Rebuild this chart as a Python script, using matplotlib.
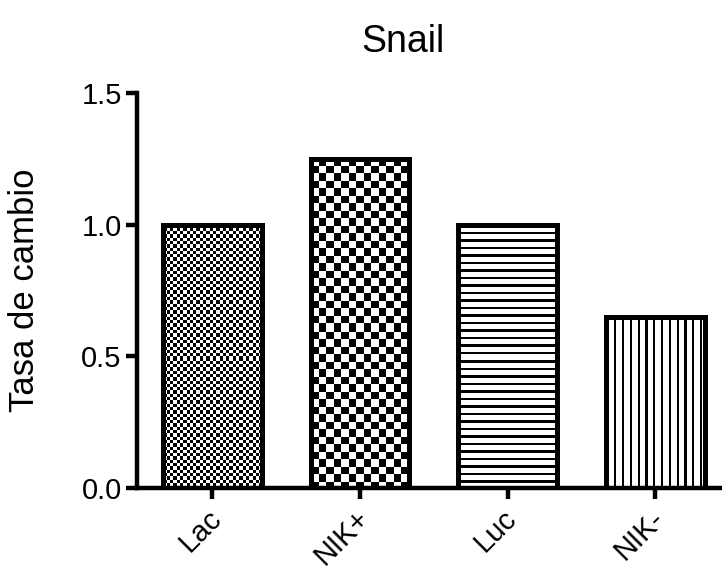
import numpy as np
import matplotlib
matplotlib.use("Agg")
import matplotlib.pyplot as plt
import matplotlib.transforms as mtransforms

plt.rcParams['font.family'] = ['Liberation Sans', 'DejaVu Sans']

categories = ["Lac", "NIK+", "Luc", "NIK-"]
values = [1.0, 1.25, 1.0, 0.65]
patterns = ["fine_checker", "checker", "hlines", "vlines"]
yticks = [0.0, 0.5, 1.0, 1.5]
ytick_labels = ["0.0", "0.5", "1.0", "1.5"]
title = "Snail"
ylabel = "Tasa de cambio"

W, H, DPI = 722, 570, 100
fig = plt.figure(figsize=(W / DPI, H / DPI), dpi=DPI)
ax = fig.add_axes([137 / W, 1 - 488 / H, (W - 137) / W + 0.01, (488 - 93) / H])

x = np.arange(len(categories))
ax.set_xlim(-0.51, 3.5)
ax.set_ylim(0, 1.5)

# Outlined bars; the fill pattern is painted underneath and clipped to each bar
bars = ax.bar(x, values, width=0.667, facecolor="none", edgecolor="black",
              linewidth=3.6, zorder=3)


def pattern_array(kind, hpx, wpx):
    rows, cols = np.mgrid[0:hpx, 0:wpx]
    if kind == "fine_checker":
        c = 3.3
        return ((np.floor(rows / c) + np.floor(cols / c)) % 2).astype(float)
    if kind == "checker":
        c = 7.5
        return ((np.floor(rows / c) + np.floor(cols / c)) % 2).astype(float)
    if kind == "hlines":
        return ((rows % 7.5) < 2.2).astype(float)
    if kind == "vlines":
        return ((cols % 7.8) < 2.2).astype(float)
    return np.zeros((hpx, wpx))


fig.canvas.draw()
for bar, kind in zip(bars, patterns):
    x0, y0 = bar.get_x(), bar.get_y()
    w, h = bar.get_width(), bar.get_height()
    p0 = ax.transData.transform((x0, y0))
    p1 = ax.transData.transform((x0 + w, y0 + h))
    wpx = max(int(round(p1[0] - p0[0])), 1)
    hpx = max(int(round(p1[1] - p0[1])), 1)
    arr = pattern_array(kind, hpx, wpx)
    im = ax.imshow(arr, cmap="Greys", vmin=0, vmax=1, interpolation="nearest",
                   extent=(x0, x0 + w, y0, y0 + h), origin="upper",
                   aspect="auto", zorder=2)
    im.set_clip_path(bar)

for s in ["top", "right"]:
    ax.spines[s].set_visible(False)
for s in ["left", "bottom"]:
    ax.spines[s].set_linewidth(3.2)
    ax.spines[s].set_zorder(4)

ax.set_yticks(yticks)
ax.set_yticklabels(ytick_labels)
ax.set_xticks(x)
ax.set_xticklabels(categories, rotation=45, ha="right", rotation_mode="anchor")
ax.tick_params(axis="both", direction="out", length=8, width=3.2,
               labelsize=21, pad=3)
ax.tick_params(axis="x", pad=4, labelsize=21)

shift = mtransforms.ScaledTranslation(-5 / DPI, 0, fig.dpi_scale_trans)
for lbl in ax.get_xticklabels():
    lbl.set_transform(lbl.get_transform() + shift)

fig.text(403 / W, 1 - 42 / H, title, ha="center", va="center", fontsize=27)
fig.text(25 / W, 1 - 290 / H, ylabel, ha="center", va="center",
         rotation=90, fontsize=25)

fig.savefig("out.png", dpi=DPI)
